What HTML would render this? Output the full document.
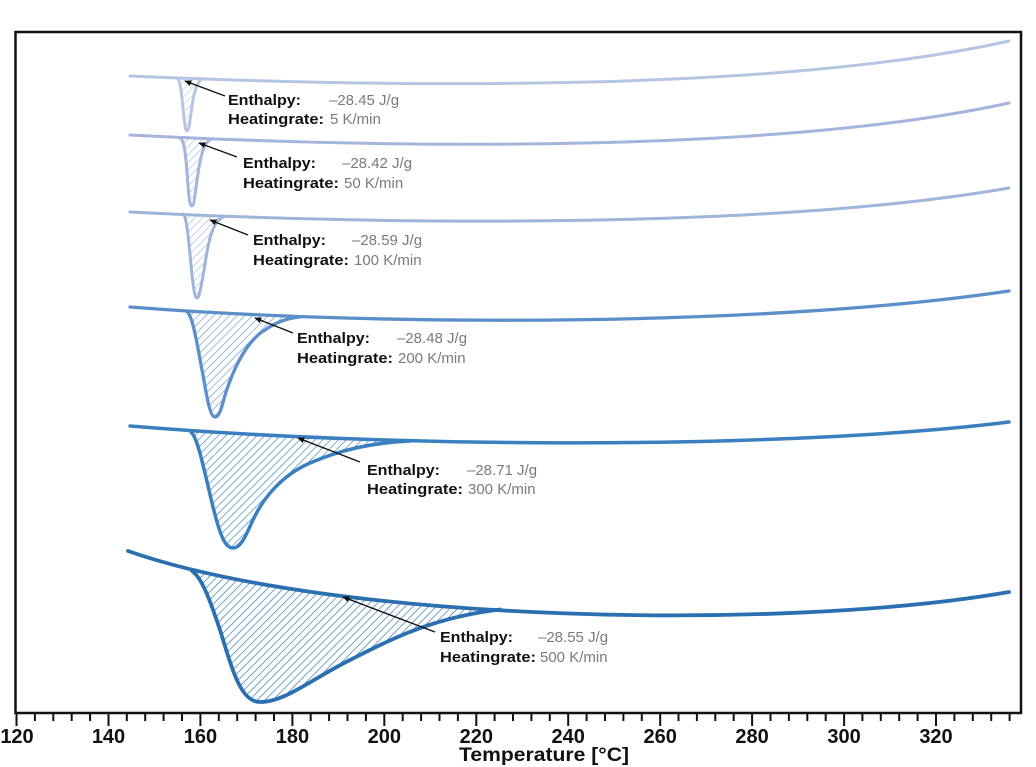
<!DOCTYPE html>
<html>
<head>
<meta charset="utf-8">
<style>
html,body{margin:0;padding:0;background:#fff;}
svg{display:block;}
.lb{font-family:"Liberation Sans",sans-serif;font-weight:bold;font-size:15px;fill:#111;}
.vl{font-family:"Liberation Sans",sans-serif;font-size:15px;fill:#7a7a7a;}
.tk{font-family:"Liberation Sans",sans-serif;font-weight:bold;font-size:20px;fill:#111;}
</style>
</head>
<body>
<svg width="1036" height="767" viewBox="0 0 1036 767" xmlns="http://www.w3.org/2000/svg">
<defs>
  <pattern id="h1" patternUnits="userSpaceOnUse" width="5.5" height="5.5" patternTransform="rotate(45)"><line x1="0" y1="0" x2="0" y2="5.5" stroke="#b4c6e4" stroke-width="1.2"/></pattern>
  <pattern id="h2" patternUnits="userSpaceOnUse" width="5.5" height="5.5" patternTransform="rotate(45)"><line x1="0" y1="0" x2="0" y2="5.5" stroke="#a3b5dc" stroke-width="1.2"/></pattern>
  <pattern id="h3" patternUnits="userSpaceOnUse" width="5.5" height="5.5" patternTransform="rotate(45)"><line x1="0" y1="0" x2="0" y2="5.5" stroke="#9fb4d9" stroke-width="1.2"/></pattern>
  <pattern id="h4" patternUnits="userSpaceOnUse" width="5.5" height="5.5" patternTransform="rotate(45)"><line x1="0" y1="0" x2="0" y2="5.5" stroke="#5b8fca" stroke-width="1.2"/></pattern>
  <pattern id="h5" patternUnits="userSpaceOnUse" width="5.5" height="5.5" patternTransform="rotate(45)"><line x1="0" y1="0" x2="0" y2="5.5" stroke="#3a7fc0" stroke-width="1.3"/></pattern>
  <pattern id="h6" patternUnits="userSpaceOnUse" width="5.5" height="5.5" patternTransform="rotate(45)"><line x1="0" y1="0" x2="0" y2="5.5" stroke="#2a6fb0" stroke-width="1.3"/></pattern>
  <marker id="ah" viewBox="0 0 10 10" refX="9" refY="5" markerWidth="7" markerHeight="6" markerUnits="userSpaceOnUse" orient="auto" preserveAspectRatio="none">
    <path d="M0,0 L10,5 L0,10 Z" fill="#111"/>
  </marker>
</defs>

<!-- Frame -->
<g stroke="#111" stroke-width="2.5" fill="none">
  <line x1="14.5" y1="32" x2="1022" y2="32"/>
  <line x1="15.5" y1="31" x2="15.5" y2="714"/>
  <line x1="1021" y1="31" x2="1021" y2="714"/>
  <line x1="14.5" y1="713" x2="1022" y2="713"/>
</g>

<!-- Ticks -->
<g stroke="#111" stroke-width="2">
  <path d="M16.5,713V726 M34.9,713V721 M53.3,713V721 M71.7,713V721 M90.1,713V721 M108.5,713V726 M126.8,713V721 M145.2,713V721 M163.6,713V721 M182,713V721 M200.4,713V726 M218.8,713V721 M237.2,713V721 M255.6,713V721 M274,713V721 M292.4,713V726 M310.7,713V721 M329.1,713V721 M347.5,713V721 M365.9,713V721 M384.3,713V726 M402.7,713V721 M421.1,713V721 M439.5,713V721 M457.9,713V721 M476.3,713V726 M494.6,713V721 M513,713V721 M531.4,713V721 M549.8,713V721 M568.2,713V726 M586.6,713V721 M605,713V721 M623.4,713V721 M641.8,713V721 M660.2,713V726 M678.5,713V721 M696.9,713V721 M715.3,713V721 M733.7,713V721 M752.1,713V726 M770.5,713V721 M788.9,713V721 M807.3,713V721 M825.7,713V721 M844.1,713V726 M862.4,713V721 M880.8,713V721 M899.2,713V721 M917.6,713V721 M936,713V726 M954.4,713V721 M972.8,713V721 M991.2,713V721 M1009.6,713V721"/>
</g>
<g class="tk" text-anchor="middle">
  <text x="17" y="743">120</text>
  <text x="108.5" y="743">140</text>
  <text x="200.4" y="743">160</text>
  <text x="292.4" y="743">180</text>
  <text x="384.3" y="743">200</text>
  <text x="476.3" y="743">220</text>
  <text x="568.2" y="743">240</text>
  <text x="660.2" y="743">260</text>
  <text x="752.1" y="743">280</text>
  <text x="844.1" y="743">300</text>
  <text x="936" y="743">320</text>
</g>
<text class="tk" x="459" y="761" textLength="170" lengthAdjust="spacingAndGlyphs" style="font-size:19px">Temperature [°C]</text>

<!-- Hatched areas -->
<path d="M177,78 C181,80 182,100 184,118 C185,128 186,131 187,131 C189,131 190,120 192,106 C194,92 197,81 203,78.5 L177,78 Z" fill="url(#h1)"/>
<path d="M180,138 C185,140 186,160 188,185 C189,200 190,206 192,206 C194,206 195,195 197,180 C200,160 203,142 211,139.5 L180,138 Z" fill="url(#h2)"/>
<path d="M183,214 C187,216 189,245 192,275 C194,292 195,298 197,298 C199,298 201,288 204,270 C208,245 211,222 224,216.5 L183,214 Z" fill="url(#h3)"/>
<path d="M186,311 C193,314 197,345 203,375 C207,398 210,417 215,417 C220,417 222,405 226,392 C235,365 248,340 265,330 C275,323 285,318.5 300,317 L186,311 Z" fill="url(#h4)"/>
<path d="M191,432 C198,438 204,470 213,507 C220,535 225,548 233,548 C240,548 245,538 252,522 C262,500 280,476 310,463 C340,450 370,443 410,441 Q300,439 191,432 Z" fill="url(#h5)"/>
<path d="M192,571 C202,578 210,600 220,630 C232,668 240,702 260,702 C285,702 310,680 350,660 C390,640 430,618 500,609.5 Q346,600 192,571 Z" fill="url(#h6)"/>

<!-- Curves -->
<g fill="none" stroke-linecap="round" stroke-linejoin="round">
  <g stroke="#b4c6e4" stroke-width="3">
    <path d="M130,76 C400,88 780,92 1009,41"/>
    <path d="M177,78 C181,80 182,100 184,118 C185,128 186,131 187,131 C189,131 190,120 192,106 C194,92 197,81 203,78.5"/>
  </g>
  <g stroke="#a3b5dc" stroke-width="3">
    <path d="M130,135 C400,149 780,153 1009,103"/>
    <path d="M180,138 C185,140 186,160 188,185 C189,200 190,206 192,206 C194,206 195,195 197,180 C200,160 203,142 211,139.5"/>
  </g>
  <g stroke="#9fb4d9" stroke-width="3">
    <path d="M130,212 C400,226 780,228 1009,188"/>
    <path d="M183,214 C187,216 189,245 192,275 C194,292 195,298 197,298 C199,298 201,288 204,270 C208,245 211,222 224,216.5"/>
  </g>
  <g stroke="#5b8fca" stroke-width="3.3">
    <path d="M130,307 C400,328 780,325 1009,291"/>
    <path d="M186,311 C193,314 197,345 203,375 C207,398 210,417 215,417 C220,417 222,405 226,392 C235,365 248,340 265,330 C275,323 285,318.5 300,317"/>
  </g>
  <g stroke="#3a7fc0" stroke-width="3.5">
    <path d="M130,426 C420,450 800,448 1009,422"/>
    <path d="M191,432 C198,438 204,470 213,507 C220,535 225,548 233,548 C240,548 245,538 252,522 C262,500 280,476 310,463 C340,450 370,443 410,441"/>
  </g>
  <g stroke="#2a6fb0" stroke-width="3.8">
    <path d="M128,551 C330,622 780,632 1009,592"/>
    <path d="M192,571 C202,578 210,600 220,630 C232,668 240,702 260,702 C285,702 310,680 350,660 C390,640 430,618 500,609.5"/>
  </g>
</g>

<!-- Arrows -->
<g stroke="#111" stroke-width="1.4" marker-end="url(#ah)">
  <line x1="225" y1="96" x2="185" y2="81"/>
  <line x1="237" y1="157" x2="199" y2="143"/>
  <line x1="248" y1="235" x2="210" y2="220"/>
  <line x1="293" y1="333" x2="255" y2="318"/>
  <line x1="360" y1="462" x2="298" y2="438"/>
  <line x1="435" y1="632" x2="343" y2="597"/>
</g>

<!-- Annotations -->
<g>
  <text class="lb" x="228" y="105" textLength="73" lengthAdjust="spacingAndGlyphs">Enthalpy:</text>
  <text class="vl" x="329" y="105">–28.45 J/g</text>
  <text class="lb" x="228" y="124" textLength="96" lengthAdjust="spacingAndGlyphs">Heatingrate:</text>
  <text class="vl" x="330" y="124">5 K/min</text>

  <text class="lb" x="243" y="168" textLength="73" lengthAdjust="spacingAndGlyphs">Enthalpy:</text>
  <text class="vl" x="342" y="168">–28.42 J/g</text>
  <text class="lb" x="243" y="188" textLength="96" lengthAdjust="spacingAndGlyphs">Heatingrate:</text>
  <text class="vl" x="344" y="188">50 K/min</text>

  <text class="lb" x="253" y="245" textLength="73" lengthAdjust="spacingAndGlyphs">Enthalpy:</text>
  <text class="vl" x="352" y="245">–28.59 J/g</text>
  <text class="lb" x="253" y="265" textLength="96" lengthAdjust="spacingAndGlyphs">Heatingrate:</text>
  <text class="vl" x="354" y="265">100 K/min</text>

  <text class="lb" x="297" y="343" textLength="73" lengthAdjust="spacingAndGlyphs">Enthalpy:</text>
  <text class="vl" x="397" y="343">–28.48 J/g</text>
  <text class="lb" x="297" y="363" textLength="96" lengthAdjust="spacingAndGlyphs">Heatingrate:</text>
  <text class="vl" x="398" y="363">200 K/min</text>

  <text class="lb" x="367" y="475" textLength="73" lengthAdjust="spacingAndGlyphs">Enthalpy:</text>
  <text class="vl" x="467" y="475">–28.71 J/g</text>
  <text class="lb" x="367" y="494" textLength="96" lengthAdjust="spacingAndGlyphs">Heatingrate:</text>
  <text class="vl" x="468" y="494">300 K/min</text>

  <text class="lb" x="440" y="642" textLength="73" lengthAdjust="spacingAndGlyphs">Enthalpy:</text>
  <text class="vl" x="538" y="642">–28.55 J/g</text>
  <text class="lb" x="440" y="662" textLength="96" lengthAdjust="spacingAndGlyphs">Heatingrate:</text>
  <text class="vl" x="540" y="662">500 K/min</text>
</g>
</svg>
</body>
</html>
